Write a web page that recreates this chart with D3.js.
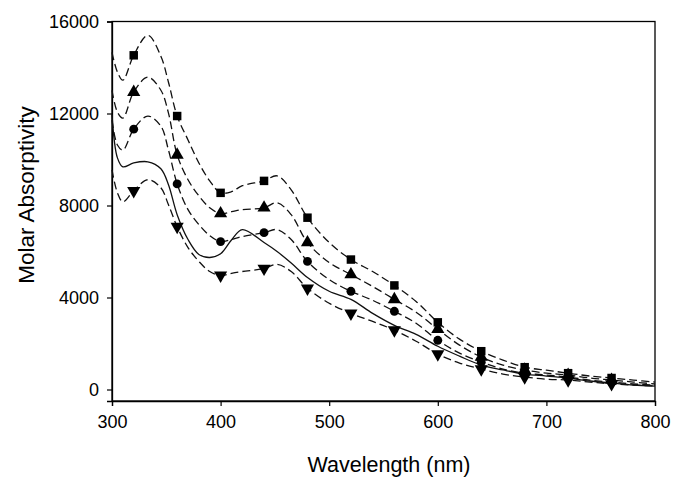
<!DOCTYPE html>
<html>
<head>
<meta charset="utf-8">
<script src="https://cdn.jsdelivr.net/npm/d3@7"></script>
<style>
  html, body { margin: 0; padding: 0; background: #fff; }
  svg { display: block; }
  text { font-family: Arial, "Liberation Sans", sans-serif; fill: #000; }
</style>
</head>
<body>
<svg id="chart" width="684" height="480"></svg>
<script>
// Wavelength grid (nm) on which the curves were read
const wavelengths = [300, 305, 310, 320, 333, 345, 352, 360, 370, 380, 390, 400, 410, 420, 440, 452, 465, 480, 500, 520, 540, 560, 580, 600, 620, 640, 660, 680, 700, 720, 740, 760, 780, 800];

// Marker wavelengths
const markerWavelengths = [320, 360, 400, 440, 480, 520, 560, 600, 640, 680, 720, 760];

// Series values (molar absorptivity)
const squareSeries   = [14660, 13800, 13450, 14530, 15400, 14490, 13360, 11890, 10850, 9850, 9070, 8550, 8600, 8860, 9070, 9290, 8680, 7470, 6390, 5650, 5130, 4525, 3830, 2920, 2190, 1665, 1280, 970, 840, 710, 585, 500, 410, 325];
const triangleSeries = [13010, 12060, 11800, 12930, 13580, 13010, 12020, 10200, 9120, 8420, 7900, 7650, 7730, 7820, 7900, 8120, 7600, 6390, 5520, 5000, 4480, 3920, 3360, 2620, 1930, 1410, 1060, 850, 710, 630, 500, 410, 325, 240];
const circleSeries   = [11710, 10630, 10410, 11320, 11890, 11450, 10410, 8940, 7820, 7170, 6690, 6430, 6520, 6650, 6820, 6950, 6520, 5570, 4780, 4270, 3880, 3400, 2880, 2140, 1580, 1190, 890, 710, 630, 540, 410, 320, 240, 195];
const solidSeries    = [11950, 10070, 9680, 9850, 9900, 9600, 8900, 7600, 6520, 5870, 5740, 5900, 6500, 6950, 6390, 6000, 5500, 4870, 4270, 3920, 3310, 2790, 2400, 1880, 1450, 1060, 850, 670, 585, 500, 370, 280, 195, 150];
const invTriSeries   = [9550, 8550, 8160, 8640, 9120, 8770, 8030, 7080, 6170, 5570, 5130, 4960, 5050, 5130, 5260, 5440, 5130, 4400, 3750, 3310, 2960, 2580, 2100, 1540, 1150, 890, 670, 540, 450, 410, 325, 240, 195, 150];

const xTicks = [300, 400, 500, 600, 700, 800];
const yTicks = [0, 4000, 8000, 12000, 16000];

const series = [
  { name: "square",   values: squareSeries,   dashed: true,  marker: "square" },
  { name: "triangle", values: triangleSeries, dashed: true,  marker: "triangle" },
  { name: "circle",   values: circleSeries,   dashed: true,  marker: "circle" },
  { name: "solid",    values: solidSeries,    dashed: false, marker: null },
  { name: "invtri",   values: invTriSeries,   dashed: true,  marker: "invtri" }
];

const svg = d3.select("#chart");
const mLeft = 112, mRight = 655, mTop = 21.5, mBottom = 401;

const x = d3.scaleLinear().domain([300, 800]).range([mLeft, mRight]);
const y = d3.scaleLinear().domain([-500, 16000]).range([mBottom, mTop]);

// Frame
svg.append("rect")
  .attr("x", mLeft).attr("y", mTop)
  .attr("width", mRight - mLeft).attr("height", mBottom - mTop)
  .attr("fill", "none").attr("stroke", "#000").attr("stroke-width", 1.3);

// Axes
const xAxis = svg.append("g")
  .attr("transform", `translate(0,${mBottom})`)
  .call(d3.axisBottom(x).tickValues(xTicks).tickSize(5).tickPadding(9).tickFormat(d3.format("d")));
const yAxis = svg.append("g")
  .attr("transform", `translate(${mLeft},0)`)
  .call(d3.axisLeft(y).tickValues(yTicks).tickSize(5).tickPadding(8).tickFormat(d3.format("d")));
[xAxis, yAxis].forEach(g => {
  g.select(".domain").attr("stroke", "#000").attr("stroke-width", 1.3);
  g.selectAll(".tick line").attr("stroke", "#000").attr("stroke-width", 1.2);
  g.selectAll(".tick text").attr("font-size", 18).attr("font-family", "Arial, 'Liberation Sans', sans-serif").attr("fill", "#222");
});

// Axis titles
svg.append("text")
  .attr("x", 389).attr("y", 472)
  .attr("text-anchor", "middle")
  .attr("font-size", 21.5)
  .attr("fill", "#222")
  .text("Wavelength (nm)");
svg.append("text")
  .attr("transform", "translate(34,195) rotate(-90)")
  .attr("text-anchor", "middle")
  .attr("font-size", 22.5)
  .attr("fill", "#222")
  .text("Molar Absorptivity");

// Lines
const line = d3.line()
  .x((d, i) => x(wavelengths[i]))
  .y(d => y(d))
  .curve(d3.curveCatmullRom.alpha(0.5));

const plot = svg.append("g");
series.forEach(s => {
  plot.append("path")
    .attr("d", line(s.values))
    .attr("fill", "none")
    .attr("stroke", "#111")
    .attr("stroke-width", 1.3)
    .attr("stroke-dasharray", s.dashed ? "8,4" : null);
});

// Markers
const symbolFor = {
  square:   d3.symbol().type(d3.symbolSquare).size(72),
  triangle: d3.symbol().type(d3.symbolTriangle).size(75),
  circle:   d3.symbol().type(d3.symbolCircle).size(62),
  invtri:   d3.symbol().type(d3.symbolTriangle).size(75)
};
series.filter(s => s.marker).forEach(s => {
  const pts = markerWavelengths.map(w => ({ w, v: s.values[wavelengths.indexOf(w)] }));
  plot.selectAll(null).data(pts).enter().append("path")
    .attr("d", symbolFor[s.marker]())
    .attr("transform", d => `translate(${x(d.w)},${y(d.v)})` + (s.marker === "invtri" ? " rotate(180)" : ""))
    .attr("fill", "#000");
});
</script>
</body>
</html>
